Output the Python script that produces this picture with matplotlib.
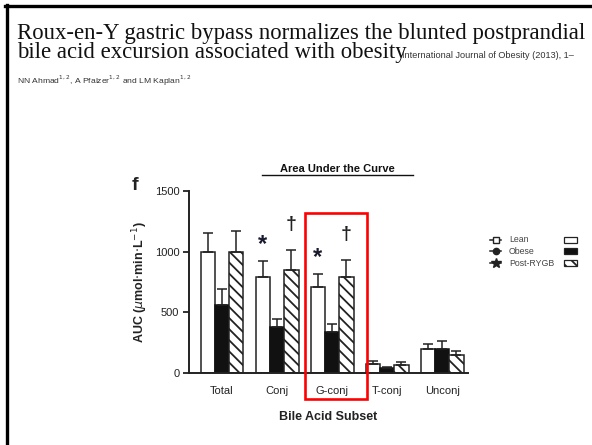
import numpy as np
import matplotlib
matplotlib.use("Agg")
import matplotlib.pyplot as plt
from matplotlib.lines import Line2D
from matplotlib.patches import Rectangle

# data
subsets = ["Total", "Conj", "G-conj", "T-conj", "Unconj"]
lean = [1000, 790, 710, 75, 195]
lean_err = [150, 135, 110, 25, 45]
obese = [560, 380, 340, 40, 195]
obese_err = [130, 65, 65, 12, 70]
rygb = [1000, 850, 790, 65, 150]
rygb_err = [170, 160, 145, 25, 35]
yticks = [0, 500, 1000, 1500]

W, H = 592, 445
plt.rcParams["font.family"] = ["Liberation Sans", "DejaVu Sans"]
plt.rcParams["hatch.linewidth"] = 1.3
fig = plt.figure(figsize=(W / 100, H / 100), dpi=100)

def fx(px):
    return px / W

def fy(py):
    return 1 - py / H

# page header
fig.text(fx(17), fy(39), "Roux-en-Y gastric bypass normalizes the blunted postprandial",
         family="Liberation Serif", fontsize=16.4, color="#111")
fig.text(fx(17), fy(58), "bile acid excursion associated with obesity",
         family="Liberation Serif", fontsize=16.4, color="#111")
fig.text(fx(402), fy(58), "International Journal of Obesity (2013), 1\u2013",
         fontsize=6.6, color="#333")
fig.text(fx(17), fy(84), "NN Ahmad$^{1,2}$, A Pfalzer$^{1,2}$ and LM Kaplan$^{1,2}$",
         fontsize=6.1, color="#333")

# frame lines of the screenshot
fig.add_artist(Line2D([fx(7), fx(7)], [fy(5), 0], color="black", lw=2.4))
fig.add_artist(Line2D([fx(5), 1], [fy(6), fy(6)], color="black", lw=2.4))

# chart
ax = fig.add_axes([fx(189), fy(373), fx(468) - fx(189), fy(191) - fy(373)])
x = np.arange(len(subsets))
w = 0.26
ekw = dict(elinewidth=1.1, capthick=1.1, ecolor="#222")
ax.bar(x - w, lean, w, color="white", edgecolor="#222", lw=1.1)
ax.errorbar(x - w, lean, yerr=[np.zeros(5), lean_err], fmt="none", capsize=3.5, **ekw)
ax.bar(x, obese, w, color="#111", edgecolor="#111", lw=1.1)
ax.errorbar(x, obese, yerr=[np.zeros(5), obese_err], fmt="none", capsize=3.5, **ekw)
ax.bar(x + w, rygb, w, color="white", edgecolor="#222", lw=1.1, hatch="\\\\\\")
ax.errorbar(x + w, rygb, yerr=[np.zeros(5), rygb_err], fmt="none", capsize=3.5, **ekw)

ax.set_xlim(-0.6, 4.47)
ax.set_ylim(0, 1500)
ax.set_yticks(yticks)
ax.set_xticks(x)
ax.set_xticklabels(subsets, fontsize=8, color="#222")
ax.tick_params(axis="x", length=0, pad=9)
ax.tick_params(axis="y", labelsize=8, length=4, width=1.3, colors="#222", pad=3)
for s in ["top", "right"]:
    ax.spines[s].set_visible(False)
for s in ["left", "bottom"]:
    ax.spines[s].set_linewidth(1.4)
    ax.spines[s].set_color("#222")
ax.set_xlabel("Bile Acid Subset", fontsize=9, fontweight="bold", color="#222", labelpad=11)
ax.set_ylabel("AUC ($\\mu$mol$\\cdot$min$\\cdot$L$^{-1}$)", fontsize=9,
              fontweight="bold", color="#222", labelpad=3)

# significance marks
for gi in [1, 2]:
    ax.text(gi - w, lean[gi] + lean_err[gi] + 130, "*", ha="center", va="center",
            fontsize=17, fontweight="bold", color="#1a1a2e")
    ax.text(gi + w, rygb[gi] + rygb_err[gi] + 210, "\u2020", ha="center", va="center",
            fontsize=14, fontweight="bold", color="#222")

fig.text(fx(337), fy(172), "Area Under the Curve", ha="center", fontsize=8,
         fontweight="bold", color="#111")
fig.add_artist(Line2D([fx(262), fx(413)], [fy(175), fy(175)], color="#111", lw=1))
fig.text(fx(132), fy(190), "f", fontsize=14, fontweight="bold", color="#222")

# highlight box
fig.add_artist(Rectangle((fx(305), fy(399)), fx(367) - fx(305), fy(213) - fy(399),
                         fill=False, edgecolor="red", lw=1.9))

# legend
labels = ["Lean", "Obese", "Post-RYGB"]
markers = [("s", "white", 4.5), ("o", "#222", 4.5), ("*", "#222", 7)]
patch_style = [dict(facecolor="white"), dict(facecolor="#111"),
               dict(facecolor="white", hatch="\\\\\\")]
for i, (lab, (m, mfc, ms), ps) in enumerate(zip(labels, markers, patch_style)):
    yy = fy(240 + 11.5 * i)
    fig.add_artist(Line2D([fx(490), fx(501)], [yy, yy], color="#222", lw=1.1))
    fig.add_artist(Line2D([fx(495.5)], [yy], color="#222", marker=m,
                          markersize=ms, mfc=mfc, mec="#222", mew=1, lw=0))
    fig.text(fx(509), yy, lab, fontsize=6.3, va="center", color="#444")
    fig.add_artist(Rectangle((fx(564), yy - 3 / H), 13 / W, 6 / H,
                             edgecolor="#222", lw=0.9, **ps))

fig.savefig("out.png", dpi=100, facecolor="white")
